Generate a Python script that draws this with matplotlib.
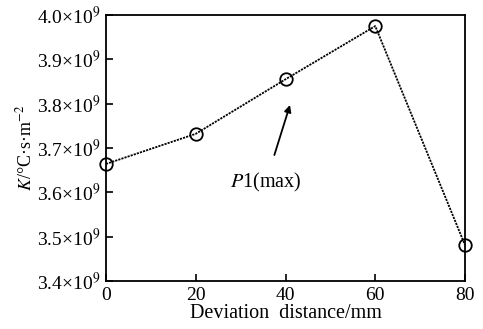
import matplotlib
matplotlib.use("Agg")
import matplotlib.pyplot as plt
from matplotlib.ticker import FuncFormatter

x = [0, 20, 40, 60, 80]
k = [3.664e9, 3.732e9, 3.855e9, 3.975e9, 3.481e9]
yticks = [3.4e9, 3.5e9, 3.6e9, 3.7e9, 3.8e9, 3.9e9, 4.0e9]
xticks = [0, 20, 40, 60, 80]

plt.rcParams['font.family'] = 'Liberation Serif'
plt.rcParams['mathtext.fontset'] = 'stix'

fig = plt.figure(figsize=(4.83, 3.29), dpi=100)
ax = fig.add_axes([106/483, 1-281/329, (465-106)/483, (281-15)/329])
ax.plot(x, k, color='black', linestyle=(0, (1.2, 0.6)), linewidth=1.3,
        marker='o', markersize=9, markerfacecolor='none', markeredgecolor='black',
        markeredgewidth=1.3, clip_on=False, zorder=3)
ax.set_xlim(0, 80)
ax.set_ylim(3.4e9, 4.0e9)
ax.set_xticks(xticks)
ax.set_yticks(yticks)
ax.yaxis.set_major_formatter(FuncFormatter(lambda v, p: "%.1f×10$^9$" % (v / 1e9)))
ax.tick_params(direction='in', length=5, width=1.2, labelsize=14)
ax.tick_params(axis='y', pad=4)
ax.tick_params(axis='x', pad=4)
for s in ax.spines.values():
    s.set_linewidth(1.3)
ax.set_xlabel('Deviation  distance/mm', fontsize=14.5, labelpad=0)
ax.set_ylabel('$K$/°C·s·m$^{-2}$', fontsize=13, labelpad=1)
ax.annotate('$P$1(max)', xy=(41.0, 3.797e9), xytext=(35.6, 3.622e9),
            fontsize=14.5, ha='center', va='center',
            arrowprops=dict(arrowstyle='-|>', color='black', lw=1.3,
                            shrinkA=10, shrinkB=0, mutation_scale=10))
fig.savefig('out.png', dpi=100)
